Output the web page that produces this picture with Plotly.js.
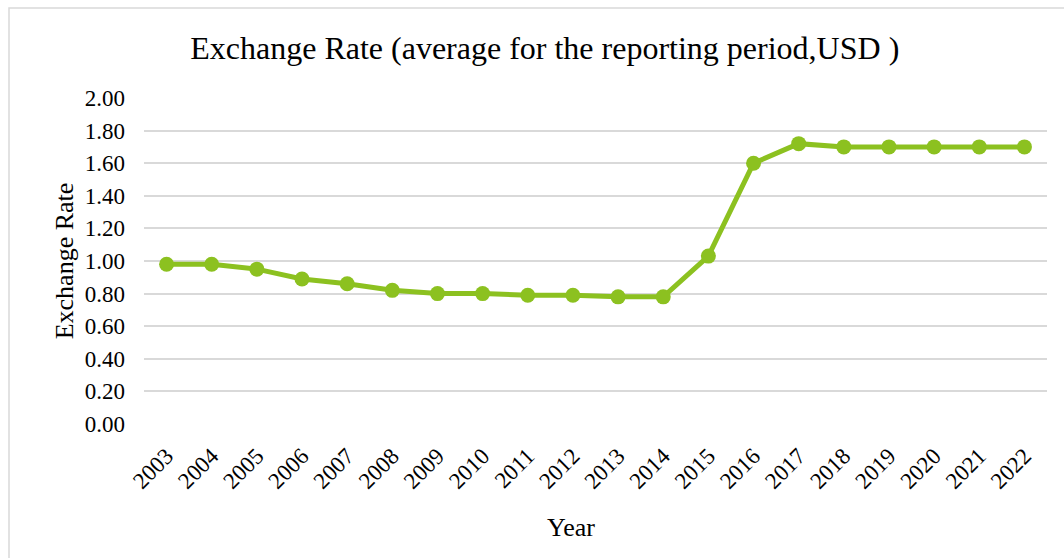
<!DOCTYPE html>
<html>
<head>
<meta charset="utf-8">
<script src="https://cdn.plot.ly/plotly-3.0.1.min.js"></script>
<style>
html,body{margin:0;padding:0;background:#fff;}
#chart{width:1064px;height:558px;}
</style>
</head>
<body>
<div id="chart"></div>
<script>
var years = ["2003","2004","2005","2006","2007","2008","2009","2010","2011","2012","2013","2014","2015","2016","2017","2018","2019","2020","2021","2022"];
var exchangeRate = [0.98,0.98,0.95,0.89,0.86,0.82,0.80,0.80,0.79,0.79,0.78,0.78,1.03,1.60,1.72,1.70,1.70,1.70,1.70,1.70];
var yTicks = [0,0.2,0.4,0.6,0.8,1.0,1.2,1.4,1.6,1.8,2.0];

var font = "'Liberation Serif', 'Times New Roman', serif";
var green = '#8cc120';

var trace = {
  x: years,
  y: exchangeRate,
  type: 'scatter',
  mode: 'lines+markers',
  line: {color: green, width: 5},
  marker: {color: green, size: 15},
  hoverinfo: 'x+y'
};

var layout = {
  width: 1064,
  height: 558,
  margin: {l: 144, r: 17, t: 98, b: 134},
  paper_bgcolor: '#fff',
  plot_bgcolor: '#fff',
  showlegend: false,
  font: {family: font, color: '#000'},
  title: {
    text: 'Exchange Rate (average for the reporting period,USD )',
    font: {family: font, size: 32, color: '#000'},
    x: 0.512, xanchor: 'center',
    y: 0.915, yanchor: 'middle'
  },
  xaxis: {
    type: 'category',
    range: [-0.5, 19.5],
    tickangle: -45,
    tickfont: {family: font, size: 23, color: '#000'},
    showgrid: false,
    showline: false,
    zeroline: false,
    ticks: '',
    ticklabelstandoff: 13,
    fixedrange: true
  },
  yaxis: {
    range: [0, 2.0],
    tickvals: yTicks,
    tickformat: '.2f',
    tickfont: {family: font, size: 23, color: '#000'},
    showgrid: true,
    gridcolor: '#d9d9d9',
    gridwidth: 2,
    zeroline: false,
    showline: false,
    ticks: '',
    ticklabelstandoff: 18,
    title: {text: 'Exchange Rate', font: {family: font, size: 26, color: '#000'}, standoff: 3},
    fixedrange: true
  },
  annotations: [{
    text: 'Year', xref: 'paper', yref: 'paper',
    x: (571 - 144) / 903, y: (424 - 527) / 326,
    xanchor: 'center', yanchor: 'middle', showarrow: false,
    font: {family: font, size: 26, color: '#000'}
  }],
  shapes: [{
    type: 'rect', xref: 'paper', yref: 'paper',
    x0: (9 - 144) / 903, x1: 1.2,
    y0: -1, y1: (424 - 8) / 326,
    line: {color: '#d9d9d9', width: 1.5},
    fillcolor: 'rgba(0,0,0,0)',
    layer: 'below'
  }]
};

Plotly.newPlot('chart', [trace], layout, {displayModeBar: false, staticPlot: true});
</script>
</body>
</html>
